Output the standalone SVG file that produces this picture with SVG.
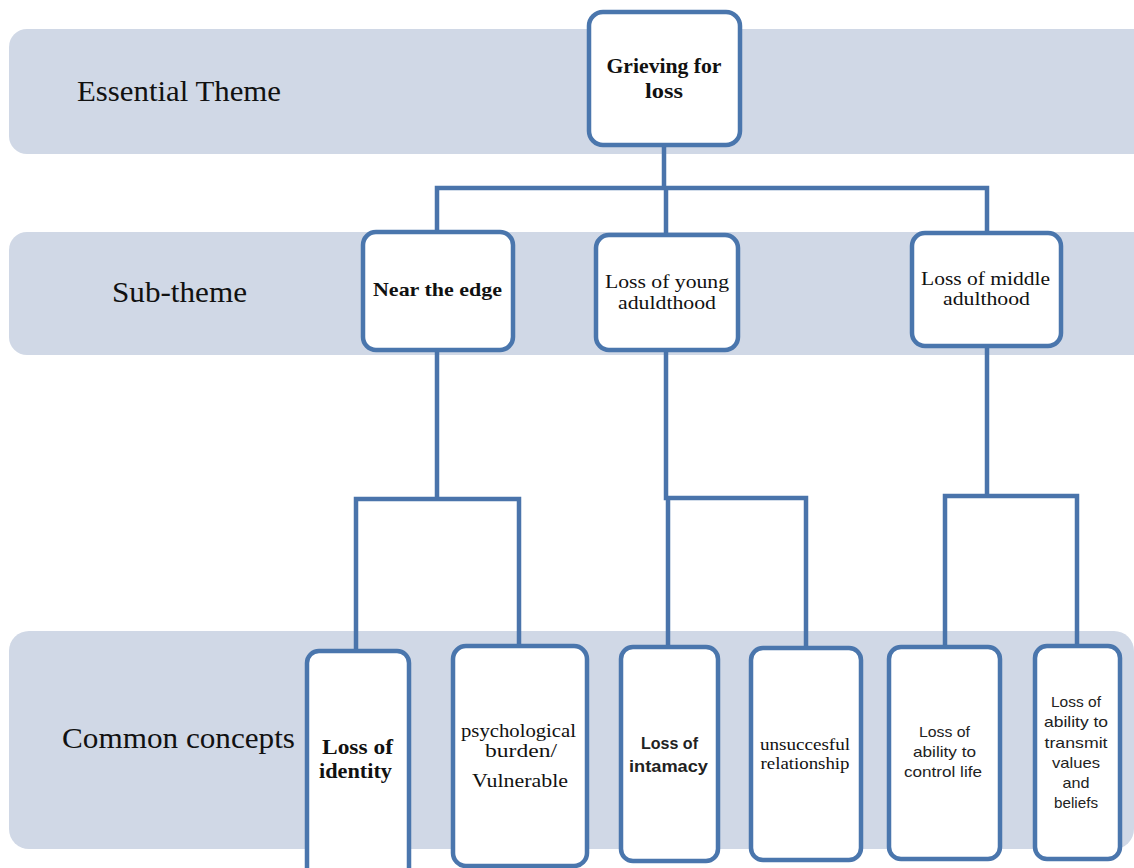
<svg xmlns="http://www.w3.org/2000/svg" width="1134" height="868" viewBox="0 0 1134 868">
<style>
.band{fill:#D0D8E6}
.node{fill:#FFFFFF;stroke:#4A76AD;stroke-width:4.5}
.conn{fill:none;stroke:#4A74AB;stroke-width:4.5;stroke-linecap:square}
.lab{font-family:"Liberation Serif",serif;font-size:30px;fill:#111}
.ser{font-family:"Liberation Serif",serif;fill:#111;text-anchor:middle}
.san{font-family:"Liberation Sans",sans-serif;fill:#222;text-anchor:middle}
</style>
<rect width="1134" height="868" fill="#FFFFFF"/>
<g id="bands">
<rect class="band" x="9" y="29" width="1160" height="125" rx="18"/>
<rect class="band" x="9" y="232" width="1160" height="123" rx="18"/>
<rect class="band" x="9" y="631" width="1125" height="218" rx="20"/>
<text class="lab" x="77" y="101" textLength="204" lengthAdjust="spacingAndGlyphs">Essential Theme</text>
<text class="lab" x="112" y="302" textLength="135" lengthAdjust="spacingAndGlyphs">Sub-theme</text>
<text class="lab" x="62" y="748" textLength="233" lengthAdjust="spacingAndGlyphs">Common concepts</text>
</g>
<g id="connectors">
<path class="conn" d="M664,147 V188 M437,188 H987 M437,188 V231 M666,188 V234 M987,188 V231"/>
<path class="conn" d="M437,350 V499 M356,499 H519 M356,499 V650 M519,499 V645"/>
<path class="conn" d="M666,352 V498 M666,498 H806 M668,498 V646 M806,498 V647"/>
<path class="conn" d="M987,347 V496 M945,496 H1077 M945,496 V646 M1077,496 V645"/>
</g>
<g id="n-grieving">
<rect class="node" x="589" y="12" width="151" height="133" rx="14"/>
<text class="ser" x="664" y="73" font-size="20" font-weight="bold" textLength="115" lengthAdjust="spacingAndGlyphs">Grieving for</text>
<text class="ser" x="664" y="98" font-size="20" font-weight="bold" textLength="38" lengthAdjust="spacingAndGlyphs">loss</text>
</g>
<g id="n-near">
<rect class="node" x="363" y="232" width="150" height="118" rx="13"/>
<text class="ser" x="437.5" y="296" font-size="19" font-weight="bold" textLength="129" lengthAdjust="spacingAndGlyphs">Near the edge</text>
</g>
<g id="n-young">
<rect class="node" x="596" y="235" width="142" height="115" rx="13"/>
<text class="ser" x="667" y="288" font-size="18" textLength="124" lengthAdjust="spacingAndGlyphs">Loss of young</text>
<text class="ser" x="667" y="309" font-size="18" textLength="98" lengthAdjust="spacingAndGlyphs">aduldthood</text>
</g>
<g id="n-middle">
<rect class="node" x="912" y="233" width="149" height="113" rx="13"/>
<text class="ser" x="985.5" y="285" font-size="18" textLength="129" lengthAdjust="spacingAndGlyphs">Loss of middle</text>
<text class="ser" x="986.5" y="305" font-size="18" textLength="87" lengthAdjust="spacingAndGlyphs">adulthood</text>
</g>
<g id="n-identity">
<rect class="node" x="307" y="651" width="102" height="230" rx="12"/>
<text class="ser" x="357.5" y="754" font-size="21" font-weight="bold" textLength="71" lengthAdjust="spacingAndGlyphs">Loss of</text>
<text class="ser" x="355.5" y="778" font-size="21" font-weight="bold" textLength="73" lengthAdjust="spacingAndGlyphs">identity</text>
</g>
<g id="n-psych">
<rect class="node" x="453" y="646" width="134" height="220" rx="13"/>
<text class="ser" x="518.5" y="737" font-size="18" textLength="115" lengthAdjust="spacingAndGlyphs">psychological</text>
<text class="ser" x="521" y="757" font-size="18" textLength="72" lengthAdjust="spacingAndGlyphs">burden/</text>
<text class="ser" x="520" y="787" font-size="18" textLength="96" lengthAdjust="spacingAndGlyphs">Vulnerable</text>
</g>
<g id="n-intamacy">
<rect class="node" x="621" y="647" width="97" height="214" rx="12"/>
<text class="san" x="669.5" y="749" font-size="17" font-weight="bold" textLength="57" lengthAdjust="spacingAndGlyphs">Loss of</text>
<text class="san" x="668.5" y="772" font-size="17" font-weight="bold" textLength="79" lengthAdjust="spacingAndGlyphs">intamacy</text>
</g>
<g id="n-unsuccesful">
<rect class="node" x="751" y="648" width="110" height="212" rx="12"/>
<text class="ser" x="805" y="750" font-size="16" textLength="90" lengthAdjust="spacingAndGlyphs">unsuccesful</text>
<text class="ser" x="805" y="769" font-size="16" textLength="89" lengthAdjust="spacingAndGlyphs">relationship</text>
</g>
<g id="n-control">
<rect class="node" x="889" y="647" width="111" height="212" rx="12"/>
<text class="san" x="944.5" y="737" font-size="15" textLength="51" lengthAdjust="spacingAndGlyphs">Loss of</text>
<text class="san" x="944.5" y="757" font-size="15" textLength="63" lengthAdjust="spacingAndGlyphs">ability to</text>
<text class="san" x="943" y="777" font-size="15" textLength="78" lengthAdjust="spacingAndGlyphs">control life</text>
</g>
<g id="n-transmit">
<rect class="node" x="1035" y="646" width="85" height="213" rx="12"/>
<text class="san" x="1076" y="707" font-size="15" textLength="50" lengthAdjust="spacingAndGlyphs">Loss of</text>
<text class="san" x="1076" y="727" font-size="15" textLength="64" lengthAdjust="spacingAndGlyphs">ability to</text>
<text class="san" x="1076" y="748" font-size="15" textLength="63" lengthAdjust="spacingAndGlyphs">transmit</text>
<text class="san" x="1076" y="768" font-size="15" textLength="48" lengthAdjust="spacingAndGlyphs">values</text>
<text class="san" x="1076" y="788" font-size="15" textLength="27" lengthAdjust="spacingAndGlyphs">and</text>
<text class="san" x="1076" y="808" font-size="15" textLength="44" lengthAdjust="spacingAndGlyphs">beliefs</text>
</g>
</svg>
